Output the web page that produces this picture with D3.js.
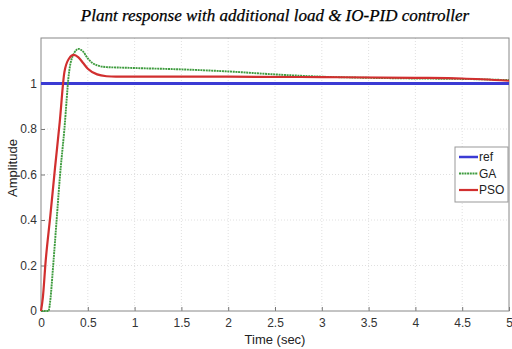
<!DOCTYPE html>
<html>
<head>
<meta charset="utf-8">
<script src="https://cdn.jsdelivr.net/npm/d3@7/dist/d3.min.js"></script>
<style>
  body { margin: 0; background: #fff; }
  svg { display: block; }
</style>
</head>
<body>
<div id="chart"></div>
<script>
// data
const xTicks = [0, 0.5, 1, 1.5, 2, 2.5, 3, 3.5, 4, 4.5, 5];
const yTicks = [0, 0.2, 0.4, 0.6, 0.8, 1];

const refT = [0, 5];
const refV = [1, 1];

const psoT = [0, 0.02, 0.05, 0.1, 0.15, 0.2, 0.25, 0.3, 0.35, 0.4, 0.45, 0.5, 0.6, 0.7, 0.8, 1.0, 2.0, 3.0, 4.0, 4.5, 5.0];
const psoV = [0, 0.06, 0.22, 0.42, 0.63, 0.83, 1.05, 1.11, 1.126, 1.115, 1.09, 1.065, 1.04, 1.032, 1.03, 1.03, 1.03, 1.028, 1.025, 1.022, 1.012];

const gaT = [0, 0.08, 0.1, 0.13, 0.167, 0.2, 0.25, 0.3, 0.35, 0.4, 0.45, 0.5, 0.55, 0.6, 0.7, 0.85, 1.0, 1.5, 2.0, 2.5, 3.0, 3.5, 4.0, 4.5, 5.0];
const gaV = [0, 0, 0.05, 0.2, 0.4, 0.58, 0.8, 1.05, 1.13, 1.152, 1.14, 1.11, 1.09, 1.08, 1.072, 1.07, 1.068, 1.062, 1.053, 1.04, 1.03, 1.025, 1.022, 1.02, 1.015];

const series = [
    { name: 'ref', t: refT, v: refV, color: '#3b3bd4', width: 3, dash: null },
    { name: 'GA', t: gaT, v: gaV, color: '#3f9c3f', width: 1.9, dash: '2,0.7' },
    { name: 'PSO', t: psoT, v: psoV, color: '#d12f2f', width: 2.2, dash: null }
];

const width = 512, height = 349;
const margin = { top: 38, right: 3, bottom: 38, left: 41 };
const innerW = width - margin.left - margin.right;
const innerH = height - margin.top - margin.bottom;

const svg = d3.select('#chart').append('svg')
    .attr('width', width)
    .attr('height', height);

const x = d3.scaleLinear().domain([0, 5]).range([0, innerW]);
const y = d3.scaleLinear().domain([0, 1.2]).range([innerH, 0]);

const g = svg.append('g').attr('transform', `translate(${margin.left},${margin.top})`);

// grid
g.append('g').selectAll('line')
    .data(xTicks.slice(1, -1))
    .enter().append('line')
    .attr('x1', d => x(d)).attr('x2', d => x(d))
    .attr('y1', 0).attr('y2', innerH)
    .attr('stroke', '#d8d8d8').attr('stroke-width', 0.8)
    .attr('stroke-dasharray', '1,2');

g.append('g').selectAll('line')
    .data(yTicks.slice(1))
    .enter().append('line')
    .attr('x1', 0).attr('x2', innerW)
    .attr('y1', d => y(d)).attr('y2', d => y(d))
    .attr('stroke', '#d8d8d8').attr('stroke-width', 0.8)
    .attr('stroke-dasharray', '1,2');

// axes
const xAxis = d3.axisBottom(x).tickValues(xTicks).tickSizeInner(-4).tickSizeOuter(0).tickPadding(7)
    .tickFormat(d3.format('~g'));
const yAxis = d3.axisLeft(y).tickValues(yTicks).tickSizeInner(-4).tickSizeOuter(0).tickPadding(4)
    .tickFormat(d3.format('~g'));

const gx = g.append('g').attr('transform', `translate(0,${innerH})`).call(xAxis);
const gy = g.append('g').call(yAxis);

[gx, gy].forEach(a => {
    a.select('.domain').remove();
    a.selectAll('line').attr('stroke', '#777');
    a.selectAll('text')
        .attr('fill', '#333')
        .style('font-family', '"Liberation Sans", Arial, sans-serif')
        .style('font-size', '12px');
});

// box
g.append('rect')
    .attr('width', innerW).attr('height', innerH)
    .attr('fill', 'none').attr('stroke', '#888').attr('stroke-width', 1);

// lines
const line = d3.line()
    .x(d => x(d[0]))
    .y(d => y(d[1]))
    .curve(d3.curveMonotoneX);

g.append('g').selectAll('path')
    .data(series)
    .enter().append('path')
    .attr('d', s => line(s.t.map((t, i) => [t, s.v[i]])))
    .attr('fill', 'none')
    .attr('stroke', s => s.color)
    .attr('stroke-width', s => s.width)
    .attr('stroke-dasharray', s => s.dash);

// title
svg.append('text')
    .attr('x', 275).attr('y', 21)
    .attr('text-anchor', 'middle')
    .style('font-family', '"Liberation Serif", "Times New Roman", serif')
    .style('font-style', 'italic')
    .style('font-size', '17px')
    .attr('fill', '#000')
    .attr('stroke', '#000').attr('stroke-width', 0.25)
    .text('Plant response with additional load & IO-PID controller');

// axis labels
svg.append('text')
    .attr('x', margin.left + x(2.5)).attr('y', 344)
    .attr('text-anchor', 'middle')
    .style('font-family', '"Liberation Sans", Arial, sans-serif')
    .style('font-size', '13px')
    .attr('fill', '#222')
    .text('Time (sec)');

svg.append('text')
    .attr('transform', 'translate(17,168) rotate(-90)')
    .attr('text-anchor', 'middle')
    .style('font-family', '"Liberation Sans", Arial, sans-serif')
    .style('font-size', '13px')
    .attr('fill', '#222')
    .text('Amplitude');

// legend
const legend = svg.append('g').attr('transform', 'translate(455,147)');
legend.append('rect')
    .attr('width', 53).attr('height', 55)
    .attr('fill', '#fff').attr('stroke', '#999').attr('stroke-width', 1);

const items = legend.selectAll('g.item')
    .data(series)
    .enter().append('g')
    .attr('class', 'item')
    .attr('transform', (d, i) => `translate(0,${10 + i * 16.5})`);

items.append('line')
    .attr('x1', 4).attr('x2', 23)
    .attr('stroke', d => d.color)
    .attr('stroke-width', d => Math.min(d.width, 2.5))
    .attr('stroke-dasharray', d => d.dash);

items.append('text')
    .attr('x', 24).attr('dy', '0.35em')
    .style('font-family', '"Liberation Sans", Arial, sans-serif')
    .style('font-size', '12px')
    .attr('fill', '#222')
    .text(d => d.name);
</script>
</body>
</html>
